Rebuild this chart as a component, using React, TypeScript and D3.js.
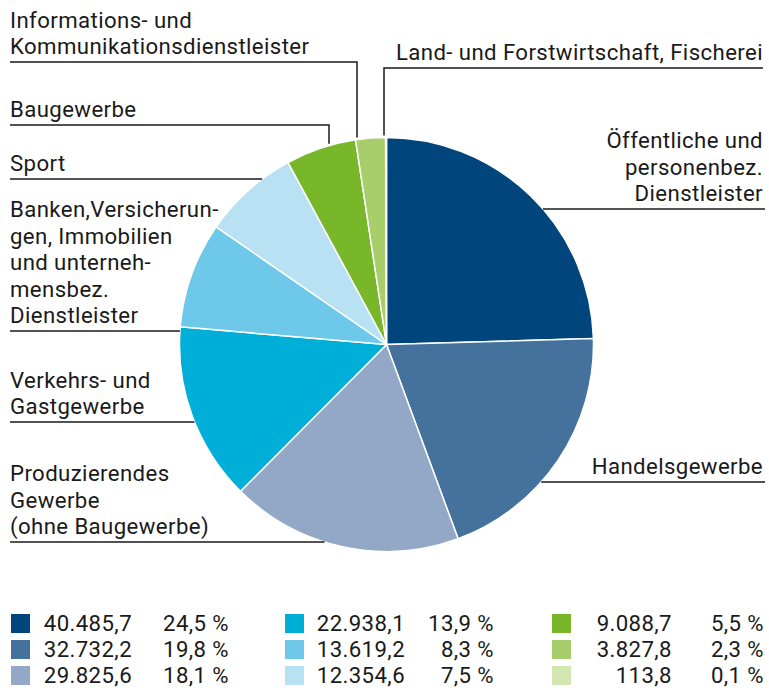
import React from "react";
import * as d3 from "d3";

const categories = [
  "Öffentliche und personenbez. Dienstleister",
  "Handelsgewerbe",
  "Produzierendes Gewerbe (ohne Baugewerbe)",
  "Verkehrs- und Gastgewerbe",
  "Banken,Versicherungen, Immobilien und unternehmensbez. Dienstleister",
  "Sport",
  "Baugewerbe",
  "Informations- und Kommunikationsdienstleister",
  "Land- und Forstwirtschaft, Fischerei",
];
const values = [40485.7, 32732.2, 29825.6, 22938.1, 13619.2, 12354.6, 9088.7, 3827.8, 113.8];
const percents = [24.5, 19.8, 18.1, 13.9, 8.3, 7.5, 5.5, 2.3, 0.1];
const colors = ["#00457c", "#45729d", "#93a7c6", "#00afd8", "#6ec8e9", "#b8e1f3", "#77b729", "#a8cd6b", "#d3e6b2"];

// label text lines (as wrapped in the original)
const labelLines = [
  ["Öffentliche und", "personenbez.", "Dienstleister"],
  ["Handelsgewerbe"],
  ["Produzierendes", "Gewerbe", "(ohne Baugewerbe)"],
  ["Verkehrs- und", "Gastgewerbe"],
  ["Banken,Versicherun-", "gen, Immobilien", "und unterneh-", "mensbez.", "Dienstleister"],
  ["Sport"],
  ["Baugewerbe"],
  ["Informations- und", "Kommunikationsdienstleister"],
  ["Land- und Forstwirtschaft, Fischerei"],
];

const W = 769;
const H = 694;
const cx = 386.5;
const cy = 344.5;
const R = 207;
const FONT = "Roboto, sans-serif";
const FS = 22.2;
const LS = 0.4;
const LH = 26.5;
const INK = "#1a1a1a";

type LabelPos = { side: "left" | "right"; lineY: number; vx?: number };
const labelPos: LabelPos[] = [
  { side: "right", lineY: 209 },
  { side: "right", lineY: 482 },
  { side: "left", lineY: 542 },
  { side: "left", lineY: 422 },
  { side: "left", lineY: 331 },
  { side: "left", lineY: 179 },
  { side: "left", lineY: 125, vx: 329 },
  { side: "left", lineY: 62, vx: 357 },
  { side: "right", lineY: 68, vx: 384 },
];

const locale = d3.formatLocale({ decimal: ",", thousands: ".", grouping: [3], currency: ["", "€"] });
const fmtVal = locale.format(",.1f");
const fmtPct = locale.format(".1f");

export default function App() {
  const pie = d3.pie<number>().sort(null).startAngle(0).endAngle(2 * Math.PI);
  const arcs = pie(values);
  const arc = d3.arc<d3.PieArcDatum<number>>().innerRadius(0).outerRadius(R);

  const edgeX = (y: number, side: "left" | "right") => {
    const dy = y - cy;
    const dx = Math.sqrt(Math.max(0, R * R - dy * dy));
    return side === "left" ? cx - dx : cx + dx;
  };
  const edgeYTop = (x: number) => {
    const dx = x - cx;
    return cy - Math.sqrt(Math.max(0, R * R - dx * dx));
  };

  const legendCols = [
    { sq: 11, num: 132, pct: 229 },
    { sq: 285, num: 405, pct: 494 },
    { sq: 552, num: 672, pct: 764 },
  ];
  const legendRowY = [631, 657, 683];

  return (
    <svg
      width={W}
      height={H}
      style={{ display: "block", position: "absolute", left: 0, top: 0 }}
      fontFamily={FONT}
      letterSpacing={LS}
    >
      <g>
        {arcs.map((a, i) => (
          <path
            key={i}
            d={arc(a) || ""}
            transform={`translate(${cx},${cy})`}
            fill={colors[i]}
            stroke="#fff"
            strokeWidth={1.5}
            strokeLinejoin="round"
          />
        ))}
      </g>
      <g>
        {labelPos.map((p, i) => {
          const lines = labelLines[i];
          const textX = p.side === "left" ? 10 : 763;
          const anchor = p.side === "left" ? "start" : "end";
          const lastBase = p.lineY - 8;
          let path: string;
          if (p.vx !== undefined) {
            const yEnd = edgeYTop(p.vx) - 2;
            const xFar = p.side === "left" ? 10 : 763;
            path = `M${xFar},${p.lineY}H${p.vx}V${yEnd}`;
          } else {
            const xe = edgeX(p.lineY, p.side);
            const xFar = p.side === "left" ? 10 : 765;
            path = `M${xFar},${p.lineY}H${xe}`;
          }
          return (
            <g key={i}>
              <path d={path} fill="none" stroke={INK} strokeWidth={1.5} />
              {lines.map((t, j) => (
                <text
                  key={j}
                  x={textX}
                  y={lastBase - (lines.length - 1 - j) * LH}
                  textAnchor={anchor}
                  fontSize={FS}
                  fill={INK}
                >
                  {t}
                </text>
              ))}
            </g>
          );
        })}
      </g>
      <g>
        {values.map((v, i) => {
          const col = legendCols[Math.floor(i / 3)];
          const y = legendRowY[i % 3];
          return (
            <g key={i}>
              <rect x={col.sq} y={y - 17} width={19} height={19} fill={colors[i]} />
              <text x={col.num} y={y} textAnchor="end" fontSize={FS} fill={INK}>
                {fmtVal(v)}
              </text>
              <text x={col.pct} y={y} textAnchor="end" fontSize={FS} fill={INK}>
                {fmtPct(percents[i]) + " %"}
              </text>
            </g>
          );
        })}
      </g>
    </svg>
  );
}
